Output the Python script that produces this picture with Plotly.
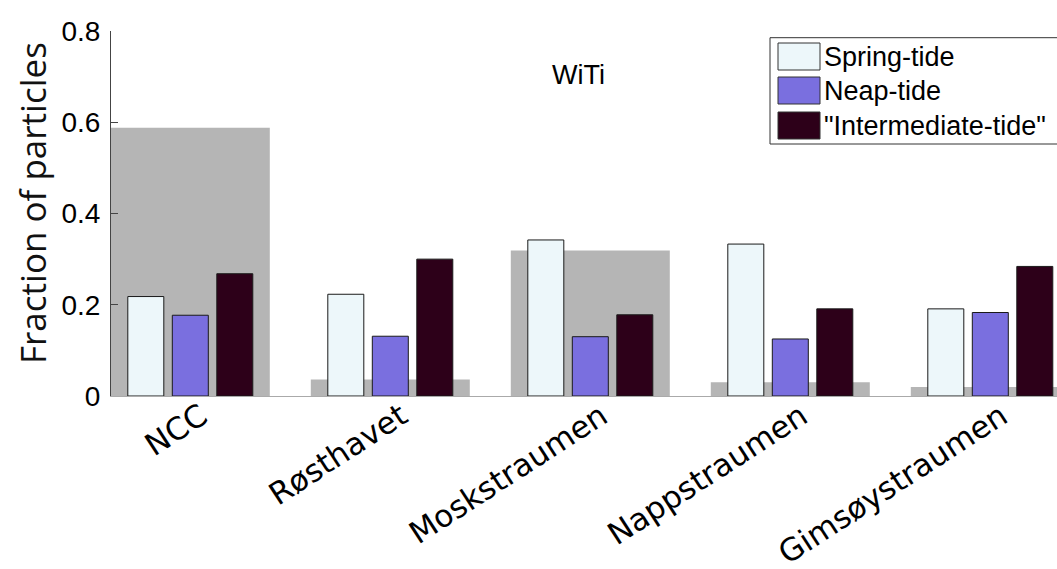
import plotly.graph_objects as go

# ---- data ----
categories = ["NCC", "Røsthavet", "Moskstraumen", "Nappstraumen", "Gimsøystraumen"]
background = [0.588, 0.036, 0.319, 0.030, 0.020]
spring_tide = [0.218, 0.223, 0.342, 0.333, 0.191]
neap_tide = [0.177, 0.131, 0.130, 0.125, 0.183]
intermediate_tide = [0.268, 0.300, 0.178, 0.191, 0.284]
series_names = ["Spring-tide", "Neap-tide", "\"Intermediate-tide\""]
y_ticks = [0, 0.2, 0.4, 0.6, 0.8]
y_ticktext = ["0", "0.2", "0.4", "0.6", "0.8"]

# ---- style ----
W, H = 1057, 569
L, R, T, B = 111, 0, 31, 173
colors = ["#EDF7FA", "#7A6FDF", "#2D0019"]
grey = "#B5B5B5"
x_pos = list(range(1, len(categories) + 1))
bar_w = 0.18
step = 0.2225

fig = go.Figure()
fig.add_trace(go.Bar(x=x_pos, y=background, width=0.795, offset=-0.3975,
                     marker=dict(color=grey, line=dict(width=0)),
                     showlegend=False, name="total"))
series = [spring_tide, neap_tide, intermediate_tide]
for i, (vals, name, col) in enumerate(zip(series, series_names, colors)):
    fig.add_trace(go.Bar(x=x_pos, y=vals, width=bar_w,
                         offset=(i - 1) * step - bar_w / 2,
                         marker=dict(color=col, line=dict(color="#1a1a1a", width=1)),
                         name=name, showlegend=False))

pw = W - L - R
ph = H - T - B


def px(x):
    return (x - L) / pw


def py(y):
    return (H - B - y) / ph


shapes = [dict(type="rect", xref="paper", yref="paper",
               x0=px(770), x1=px(1070), y0=py(144), y1=py(37.7),
               line=dict(color="#333333", width=1), fillcolor="white", layer="above")]
annotations = []
sw_tops = [43, 77, 112]
for i, (name, col) in enumerate(zip(series_names, colors)):
    y0 = sw_tops[i]
    shapes.append(dict(type="rect", xref="paper", yref="paper",
                       x0=px(778), x1=px(820), y0=py(y0 + 27), y1=py(y0),
                       line=dict(color="#333333", width=1), fillcolor=col, layer="above"))
    annotations.append(dict(text=name, xref="paper", yref="paper", x=px(822), y=py(y0 + 13.5),
                            xanchor="left", yanchor="middle", showarrow=False,
                            font=dict(family="Liberation Sans, Arial", size=27, color="black")))

annotations.append(dict(text="WiTi", xref="paper", yref="paper", x=px(578), y=py(75),
                        xanchor="center", yanchor="middle", showarrow=False,
                        font=dict(family="Liberation Sans, Arial", size=27, color="black")))
annotations.append(dict(text="Fraction of particles", xref="paper", yref="paper",
                        x=px(33), y=py(203), textangle=-90,
                        xanchor="center", yanchor="middle", showarrow=False,
                        font=dict(family="Open Sans", size=35, color="#111111")))

fig.update_layout(
    width=W, height=H,
    margin=dict(l=L, r=R, t=T, b=B, pad=0, autoexpand=False),
    paper_bgcolor="white", plot_bgcolor="white",
    barmode="overlay", showlegend=False,
    shapes=shapes, annotations=annotations,
    xaxis=dict(range=[0.6035, 0.6035 + pw / 200], tickvals=x_pos, ticktext=categories,
               tickangle=-33, tickfont=dict(family="DejaVu Sans", size=31, color="black"),
               ticks="", showline=True, linecolor="#AAAAAA", linewidth=1,
               showgrid=False, zeroline=False, automargin=False,
               ticklabelstandoff=-11, ticklabelshift=11),
    yaxis=dict(range=[0, 0.8], tickvals=y_ticks, ticktext=y_ticktext,
               ticks="inside", ticklen=7, tickcolor="#444444",
               tickfont=dict(family="Liberation Sans, Arial", size=28, color="black"),
               showline=True, linecolor="#444444", linewidth=1,
               showgrid=False, zeroline=False, ticklabelstandoff=4, automargin=False),
)

fig.write_html("out.html", config={"displayModeBar": False},
               post_script="document.body.style.margin='0px';document.body.style.overflow='hidden';")
